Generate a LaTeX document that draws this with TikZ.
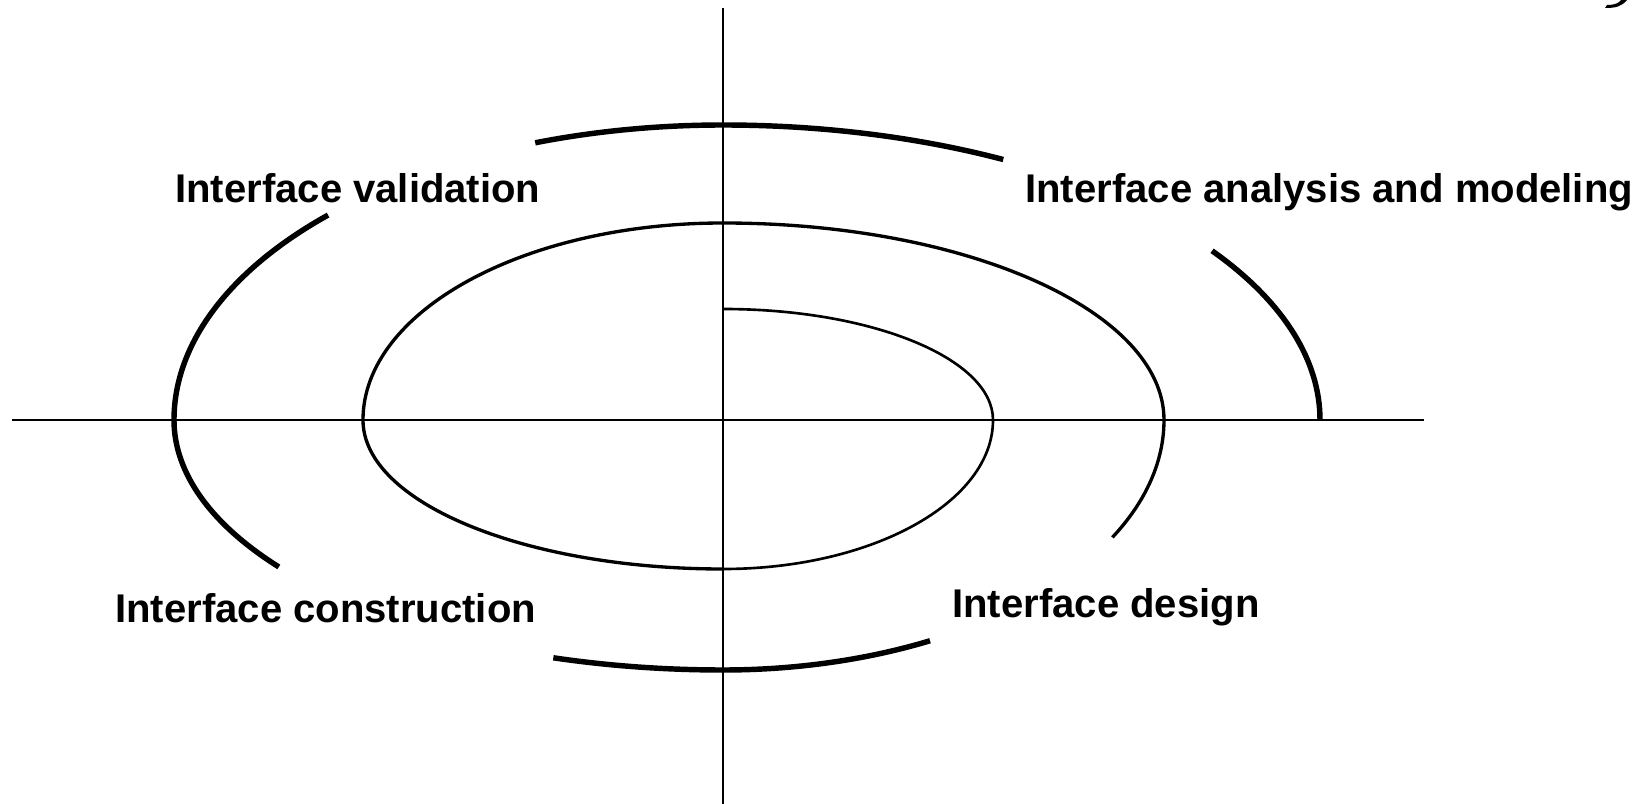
\documentclass[tikz,border=0pt]{standalone}
\usepackage{fontspec}
\setmainfont{Liberation Sans}
\usetikzlibrary{positioning}

\begin{document}
\begin{tikzpicture}[x=0.02cm,y=0.02cm,
  axisline/.style={line width=1.1pt},
  innerturn/.style={line width=1.5pt},
  midturn/.style={line width=1.9pt},
  outerturn/.style={line width=3.1pt},
  phase/.style={anchor=base west,inner sep=0pt,font=\fontsize{22.8pt}{27pt}\selectfont\bfseries}]
\useasboundingbox (-723,-384) rectangle (929,420);

% axes
\coordinate (west) at (-711,0);
\coordinate (east) at (701,0);
\coordinate (north) at (0,412);
\coordinate (south) at (0,-384);
\draw[axisline] (west) -- (east);
\draw[axisline] (north) -- (south);

% spiral, inner and middle turns
\draw[innerturn] (0,111)
  arc[start angle=90,end angle=0,x radius=270,y radius=111]
  arc[start angle=0,end angle=-90,x radius=270,y radius=149];
\draw[midturn] (0,-149)
  arc[start angle=-90,end angle=-180,x radius=360,y radius=149]
  arc[start angle=180,end angle=90,x radius=360,y radius=197]
  arc[start angle=90,end angle=0,x radius=441,y radius=197]
  arc[start angle=0,end angle=-28,x radius=441,y radius=250];

% outer turn, broken at the labels
\draw[outerturn] (-62:441 and 250)
  arc[start angle=-62,end angle=-90,x radius=441,y radius=250]
  arc[start angle=-90,end angle=-108,x radius=549,y radius=250];
\draw[outerturn] (-144:549 and 250)
  arc[start angle=-144,end angle=-180,x radius=549,y radius=250]
  arc[start angle=180,end angle=136,x radius=549,y radius=295];
\draw[outerturn] (110:549 and 295)
  arc[start angle=110,end angle=90,x radius=549,y radius=295]
  arc[start angle=90,end angle=62,x radius=597,y radius=295];
\draw[outerturn] (35:597 and 295)
  arc[start angle=35,end angle=0,x radius=597,y radius=295];

% labels
\node[phase] (validation) at (-548,217) {Interface validation};
\node[phase] (analysis) at (302,217) {Interface analysis and modeling};
\node[phase] (construction) at (-608,-202) {Interface construction};
\node[phase] (design) at (229,-197) {Interface design};

% cut-off stroke in the corner
\fill (904,420) .. controls (898,413) and (892,412) .. (882,412)
  -- (884,415) .. controls (892,415) and (896,417) .. (898,420) -- cycle;
\end{tikzpicture}
\end{document}
